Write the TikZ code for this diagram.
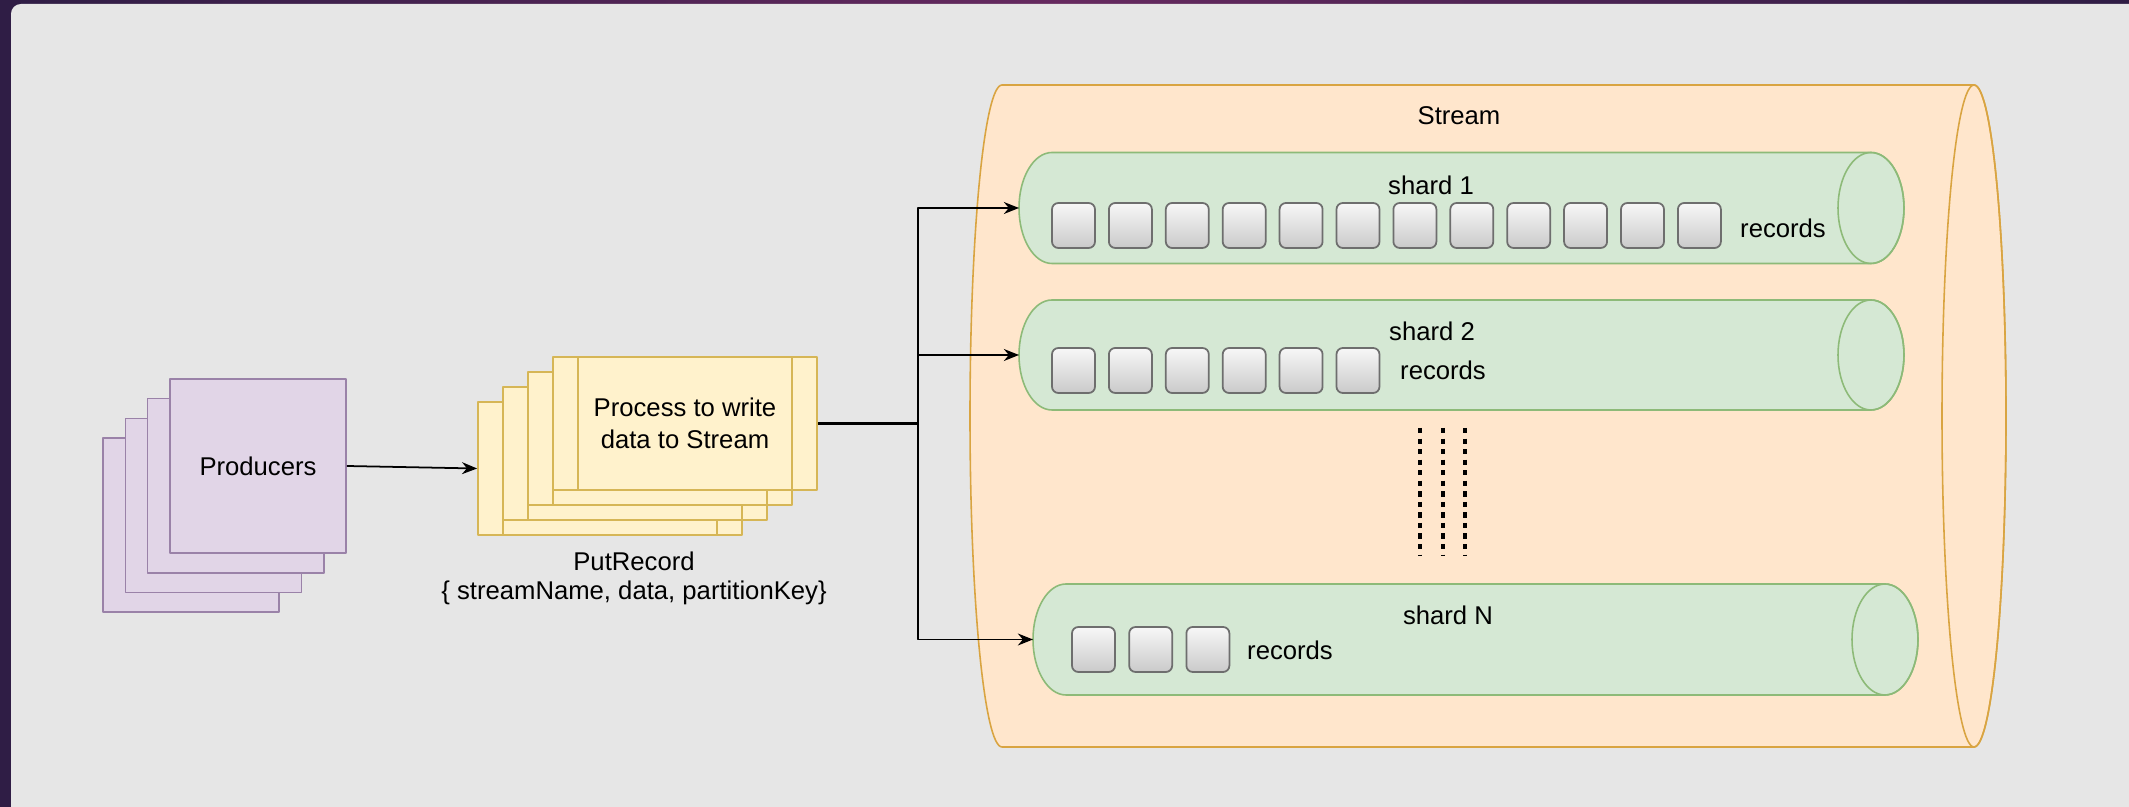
\documentclass[tikz,border=0pt]{standalone}
\usepackage{fontspec}
\setmainfont{Liberation Sans}
\usetikzlibrary{arrows.meta}
\definecolor{bgdark}{HTML}{2F1D45}
\definecolor{bgmid}{HTML}{66295F}
\definecolor{panelgray}{HTML}{E6E6E6}
\definecolor{prodfill}{HTML}{E1D5E7}
\definecolor{prodline}{HTML}{9A82A8}
\definecolor{procfill}{HTML}{FFF2CC}
\definecolor{procline}{HTML}{D6B656}
\definecolor{streamfill}{HTML}{FFE6CC}
\definecolor{streamline}{HTML}{D9A441}
\definecolor{shardfill}{HTML}{D5E8D4}
\definecolor{shardline}{HTML}{8DBA78}
\definecolor{recline}{HTML}{6E6E6E}
% horizontal cylinder: fill, line, left x, right x, middle y, half height, half width of the ends
\newcommand{\hcyl}[7]{%
  \filldraw[fill=#1,draw=#2] (#4,#5-#6) -- (#3,#5-#6)
    arc[start angle=270,end angle=90,x radius=#7,y radius=#6] -- (#4,#5+#6)
    arc[start angle=90,end angle=-90,x radius=#7,y radius=#6] -- cycle;
  \draw[#2] (#4,#5) ellipse[x radius=#7,y radius=#6];}
\begin{document}
\begin{tikzpicture}[x=0.01cm,y=-0.01cm,>={Stealth[length=4.3pt,width=3.4pt]},line join=round,line width=0.45pt,
  font=\fontsize{7.3}{9}\selectfont,
  prodbox/.style={draw=prodline,fill=prodfill,minimum width=1.76cm,minimum height=1.74cm,inner sep=0pt},
  procbox/.style={draw=procline,fill=procfill,minimum width=2.64cm,minimum height=1.33cm,inner sep=0pt,align=center},
  recbox/.style={draw=recline,line width=0.5pt,rounded corners=1.8pt,top color=gray!6,bottom color=gray!42},
  link/.style={->,line width=0.5pt},
  dotline/.style={line width=1.15pt,dash pattern=on 1.5pt off 1.5pt}]
\useasboundingbox (0,0) rectangle (2129,807);
\shade[left color=bgdark,right color=bgdark,middle color=bgmid] (0,0) rectangle (2129,807);
\fill[panelgray,rounded corners=2.8pt] (11,4) rectangle (2150,830);

\foreach \k in {3,2,1} \node[prodbox] (prod\k) at ({258-22.3*\k},{466+19.7*\k}) {};
\node[prodbox] (prod) at (258,466) {Producers};

\foreach \k in {3,2,1} {
  \node[procbox] (proc\k) at ({685-25*\k},{423.5+15*\k}) {};
  \draw[procline] ([xshift=0.26cm]proc\k.north west) -- ([xshift=0.26cm]proc\k.south west)
    ([xshift=-0.26cm]proc\k.north east) -- ([xshift=-0.26cm]proc\k.south east);
}
\node[procbox] (proc) at (685,423.5) {Process to write\\data to Stream};
\draw[procline] ([xshift=0.26cm]proc.north west) -- ([xshift=0.26cm]proc.south west)
  ([xshift=-0.26cm]proc.north east) -- ([xshift=-0.26cm]proc.south east);
\node[align=center,font=\fontsize{7.3}{8.3}\selectfont] (put) at (634,578) {PutRecord\\\{ streamName, data, partitionKey\}};

\hcyl{streamfill}{streamline}{1002}{1974}{416}{331}{32}
\node (stream) at (1459,116) {Stream};

\hcyl{shardfill}{shardline}{1052}{1871}{208}{55.5}{33}
\hcyl{shardfill}{shardline}{1052}{1871}{355}{55}{33}
\hcyl{shardfill}{shardline}{1066}{1885}{639.5}{55.5}{33}
\node (sh1) at (1431,185) {shard 1};
\node (sh2) at (1432,331) {shard 2};
\node (shN) at (1448,615) {shard N};

\foreach \i in {0,...,11} \draw[recbox] ({1052+56.9*\i},203) rectangle ++(43,45);
\foreach \i in {0,...,5} \draw[recbox] ({1052+56.9*\i},348) rectangle ++(43,45);
\foreach \i in {0,...,2} \draw[recbox] ({1072+57.2*\i},627) rectangle ++(43,45);
\node (rec1) at (1783,228) {records};
\node (rec2) at (1443,370) {records};
\node (recN) at (1290,650) {records};

\foreach \x in {1420,1443,1465} \draw[dotline] (\x,428) -- (\x,556);

\coordinate (split) at (918,423.5);
\coordinate (in1) at (1019,208);
\coordinate (in2) at (1019,355);
\coordinate (inN) at (1033,639.5);
\draw[link] (prod.east) -- (proc3.west);
\draw[line width=0.8pt] (proc.east) -- (split);
\draw[link] (proc.east) -- (split) |- (in1);
\draw[link] (proc.east) -- (split) |- (in2);
\draw[link] (proc.east) -- (split) |- (inN);
\end{tikzpicture}
\end{document}
